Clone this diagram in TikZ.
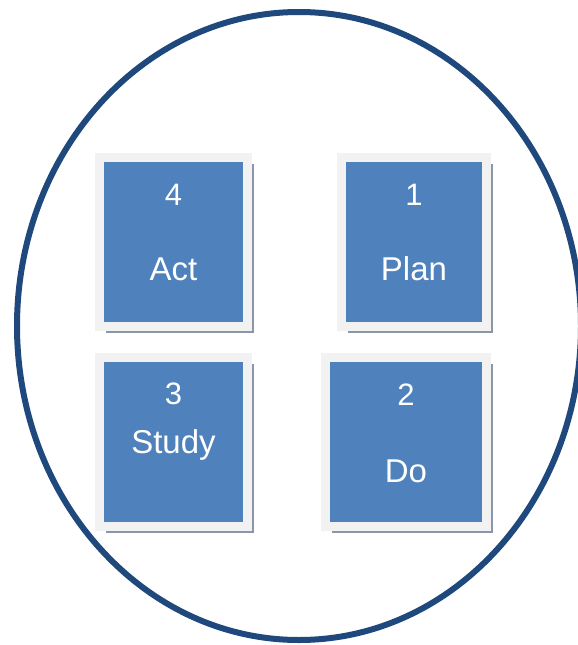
\documentclass[tikz,border=0pt]{standalone}
\usepackage{fontspec}
\setmainfont{Liberation Sans}
\usepackage{tikz}
\usetikzlibrary{positioning,shadows}
\definecolor{ringblue}{RGB}{31,73,125}
\definecolor{boxblue}{RGB}{79,129,189}
\definecolor{framegray}{RGB}{242,242,242}
\definecolor{shadowgray}{RGB}{140,150,170}
\begin{document}
\begin{tikzpicture}
	[x=1pt,y=-1pt,
	card/.style={rectangle,fill=boxblue,draw=framegray,line width=9pt,minimum height=169pt,inner sep=0pt,
		drop shadow={shadow xshift=6.5pt,shadow yshift=-6.5pt,fill=shadowgray,opacity=1}},
	num/.style={anchor=base,text=white,font=\fontsize{31}{31}\selectfont},
	lbl/.style={anchor=base,text=white,font=\fontsize{33}{33}\selectfont}]
	\useasboundingbox (0,0) rectangle (578,645);
	%%%%% RING
	\draw[ringblue,line width=6pt] (299,326) ellipse [x radius=282,y radius=314];
	%%%%% CARDS
	\foreach \n/\txt/\cx/\cy/\w/\ny/\ly in {4/Act/173.5/242/148/205/280,1/Plan/414/242/145/205/280,3/Study/173.5/442/148/404/453,2/Do/406/442/161/405/482}
	{
	\node[card,minimum width=\w pt] (card\n) at (\cx,\cy) {};
	\node[num] (num\n) at (\cx,\ny) {\n};
	\node[lbl] (lbl\n) at (\cx,\ly) {\txt};
	};
\end{tikzpicture}
\end{document}
